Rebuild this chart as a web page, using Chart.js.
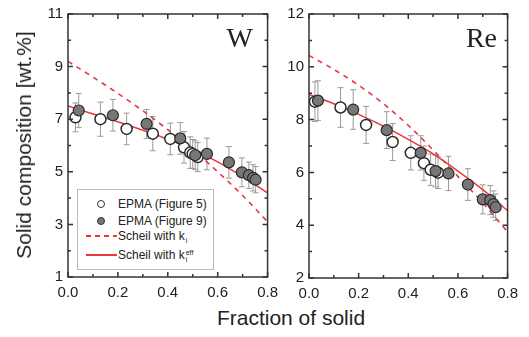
<!DOCTYPE html>
<html>
<head>
<meta charset="utf-8">
<script src="https://cdn.jsdelivr.net/npm/chart.js@4/dist/chart.umd.min.js"></script>
<style>
  body { margin: 0; background: #fff; }
  #wrap { position: relative; width: 529px; height: 337px; font-family: "Liberation Sans", Arial, sans-serif; color: #222; }
  canvas { position: absolute; top: 0; }
  #c1 { left: 0; }
  #c2 { left: 250px; }
  .ytitle { position: absolute; left: 24px; top: 145px; font-size: 21px; white-space: nowrap; transform: translate(-50%, -50%) rotate(-90deg); }
  .xtitle { position: absolute; left: 291px; top: 318px; font-size: 21px; white-space: nowrap; transform: translate(-50%, -50%); }
  .tag { position: absolute; font-family: "Liberation Serif", "Times New Roman", serif; font-size: 28px; line-height: 28px; text-align: right; }
  .legend { position: absolute; left: 77px; top: 189px; width: 135px; height: 79px; border: 1px solid #bbb; background: #fff; font-size: 12px; }
  .legend .txt { position: absolute; left: 40px; white-space: nowrap; transform: translateY(-50%); }
  .legend .mk { position: absolute; box-sizing: border-box; }
  .ss { display: inline-flex; flex-direction: column; vertical-align: middle; font-size: 7px; line-height: 7px; margin-left: 1px; }
</style>
</head>
<body>
<div id="wrap">
  <canvas id="c1" width="285" height="305"></canvas>
  <canvas id="c2" width="275" height="305"></canvas>
  <div class="ytitle">Solid composition [wt.%]</div>
  <div class="xtitle">Fraction of solid</div>
  <div class="tag" style="left:200px; top:24px; width:53px;">W</div>
  <div class="tag" style="left:440px; top:24px; width:57px;">Re</div>
  <div class="legend">
    <span class="mk" style="left:19px; top:10px; width:8px; height:8px; border-radius:50%; border:1.5px solid #333; background:#fff;"></span>
    <span class="txt" style="top:14px;">EPMA (Figure 5)</span>
    <span class="mk" style="left:19px; top:27px; width:8px; height:8px; border-radius:50%; border:1.5px solid #333; background:#777;"></span>
    <span class="txt" style="top:31px;">EPMA (Figure 9)</span>
    <span class="mk" style="left:8px; top:45px; width:31px; height:2px; background:repeating-linear-gradient(90deg, #e8383d 0 5px, transparent 5px 9px);"></span>
    <span class="txt" style="top:46px;">Scheil with k<span class="ss"><span>&nbsp;</span><span>i</span></span></span>
    <span class="mk" style="left:8px; top:64px; width:31px; height:2px; background:#e8383d;"></span>
    <span class="txt" style="top:65px;">Scheil with k<span class="ss"><span>eff</span><span>i</span></span></span>
  </div>
</div>
<script>
// W panel
const wOpenX = [0.03, 0.13, 0.235, 0.34, 0.41, 0.465, 0.49, 0.50, 0.52]
const wOpenY = [7.07, 7.0, 6.63, 6.45, 6.25, 5.93, 5.73, 5.68, 5.56]
const wOpenErr = [0.55, 0.65, 0.6, 0.65, 0.6, 0.6, 0.6, 0.55, 0.55]
const wFillX = [0.043, 0.18, 0.315, 0.45, 0.51, 0.557, 0.645, 0.697, 0.725, 0.742, 0.752]
const wFillY = [7.33, 7.15, 6.82, 6.27, 5.63, 5.68, 5.36, 4.98, 4.87, 4.77, 4.7]
const wFillErr = [0.65, 0.6, 0.55, 0.6, 0.55, 0.6, 0.6, 0.55, 0.5, 0.5, 0.5]
const wLineX = [0, 0.1, 0.2, 0.3, 0.4, 0.5, 0.6, 0.7, 0.8]
const wKiY = [9.2, 8.6, 7.98, 7.32, 6.6, 5.85, 5.0, 4.1, 3.1]
const wKeffY = [7.5, 7.2, 6.9, 6.58, 6.24, 5.85, 5.38, 4.82, 4.2]

// Re panel
const reOpenX = [0.024, 0.127, 0.23, 0.337, 0.41, 0.463, 0.49, 0.52]
const reOpenY = [8.68, 8.46, 7.8, 7.15, 6.74, 6.35, 6.1, 5.99]
const reOpenErr = [0.75, 0.75, 0.7, 0.7, 0.65, 0.65, 0.6, 0.6]
const reFillX = [0.036, 0.178, 0.313, 0.45, 0.51, 0.562, 0.64, 0.70, 0.73, 0.743, 0.752]
const reFillY = [8.72, 8.38, 7.6, 6.74, 6.05, 5.96, 5.54, 4.98, 4.95, 4.8, 4.68]
const reFillErr = [0.75, 0.75, 0.7, 0.65, 0.6, 0.65, 0.6, 0.55, 0.55, 0.5, 0.5]
const reLineX = [0, 0.1, 0.2, 0.3, 0.4, 0.5, 0.6, 0.7, 0.8]
const reKiY = [10.43, 9.9, 9.3, 8.6, 7.78, 6.85, 5.85, 4.85, 3.75]
const reKeffY = [8.95, 8.6, 8.2, 7.75, 7.25, 6.7, 6.05, 5.35, 4.55]

const red = '#e8383d'

function pts(xs, ys) {
    return xs.map((x, i) => ({ x: x, y: ys[i] }))
}

const errorBars = {
    id: 'errorBars',
    beforeDatasetsDraw(chart) {
        const ctx = chart.ctx
        const xs = chart.scales.x, ys = chart.scales.y
        ctx.save()
        ctx.strokeStyle = '#9a9a9a'
        ctx.lineWidth = 1
        chart.data.datasets.forEach(ds => {
            if (!ds.err) return
            ds.data.forEach((p, i) => {
                const px = xs.getPixelForValue(p.x)
                const top = ys.getPixelForValue(p.y + ds.err[i])
                const bot = ys.getPixelForValue(p.y - ds.err[i])
                ctx.beginPath()
                ctx.moveTo(px, top); ctx.lineTo(px, bot)
                ctx.moveTo(px - 3, top); ctx.lineTo(px + 3, top)
                ctx.moveTo(px - 3, bot); ctx.lineTo(px + 3, bot)
                ctx.stroke()
            })
        })
        ctx.restore()
    }
}

const frame = {
    id: 'frame',
    afterDraw(chart) {
        const ctx = chart.ctx
        const a = chart.chartArea
        const xs = chart.scales.x, ys = chart.scales.y
        ctx.save()
        ctx.strokeStyle = '#333'
        ctx.lineWidth = 1.5
        ctx.beginPath()
        xs.ticks.forEach(t => {
            const px = xs.getPixelForValue(t.value)
            const len = t.label ? 5 : 3
            ctx.moveTo(px, a.bottom); ctx.lineTo(px, a.bottom - len)
            ctx.moveTo(px, a.top); ctx.lineTo(px, a.top + len)
        })
        ys.ticks.forEach(t => {
            const py = ys.getPixelForValue(t.value)
            const len = t.label ? 5 : 3
            ctx.moveTo(a.left, py); ctx.lineTo(a.left + len, py)
            ctx.moveTo(a.right, py); ctx.lineTo(a.right - len, py)
        })
        ctx.stroke()
        ctx.strokeRect(a.left, a.top, a.right - a.left, a.bottom - a.top)
        ctx.restore()
    }
}

function makeChart(id, d, yMin, yMax, axisW, axisH, padRight) {
    return new Chart(document.getElementById(id), {
        type: 'scatter',
        data: {
            datasets: [
                { data: pts(d.lineX, d.ki), showLine: true, pointRadius: 0, borderColor: red, borderWidth: 1.6, borderDash: [5, 5], cubicInterpolationMode: 'monotone', order: 3 },
                { data: pts(d.lineX, d.keff), showLine: true, pointRadius: 0, borderColor: red, borderWidth: 1.5, cubicInterpolationMode: 'monotone', order: 3 },
                { data: pts(d.openX, d.openY), err: d.openErr, pointRadius: 5.5, pointBorderWidth: 1.5, borderColor: '#2a2a2a', backgroundColor: '#fff', order: 2 },
                { data: pts(d.fillX, d.fillY), err: d.fillErr, pointRadius: 5.5, pointBorderWidth: 1.2, borderColor: '#2a2a2a', backgroundColor: '#777', order: 1 },
            ]
        },
        options: {
            responsive: false,
            animation: false,
            devicePixelRatio: 1,
            layout: { padding: { left: 0, right: padRight, top: 10, bottom: 0 } },
            plugins: { legend: { display: false }, tooltip: { enabled: false } },
            scales: {
                x: {
                    type: 'linear', min: 0, max: 0.8,
                    grid: { display: false, drawTicks: false },
                    border: { display: false },
                    ticks: {
                        stepSize: 0.1, autoSkip: false, maxRotation: 0, padding: 7,
                        color: '#222', font: { size: 15, family: 'Liberation Sans' },
                        callback: v => {
                            const t = Math.round(v * 10)
                            return t % 2 === 0 ? (t / 10).toFixed(1) : ''
                        }
                    },
                    afterFit: s => { s.height = axisH }
                },
                y: {
                    type: 'linear', min: yMin, max: yMax,
                    grid: { display: false, drawTicks: false },
                    border: { display: false },
                    ticks: {
                        stepSize: 1, autoSkip: false, padding: 5,
                        color: '#222', font: { size: 15, family: 'Liberation Sans' },
                        callback: v => ((v - yMin) % 2 === 0 ? String(v) : '')
                    },
                    afterFit: s => { s.width = axisW }
                }
            }
        },
        plugins: [errorBars, frame]
    })
}

makeChart('c1', {
    lineX: wLineX, ki: wKiY, keff: wKeffY,
    openX: wOpenX, openY: wOpenY, openErr: wOpenErr,
    fillX: wFillX, fillY: wFillY, fillErr: wFillErr
}, 1, 11, 68, 28, 13)

makeChart('c2', {
    lineX: reLineX, ki: reKiY, keff: reKeffY,
    openX: reOpenX, openY: reOpenY, openErr: reOpenErr,
    fillX: reFillX, fillY: reFillY, fillErr: reFillErr
}, 2, 12, 59, 27, 14)
</script>
</body>
</html>
